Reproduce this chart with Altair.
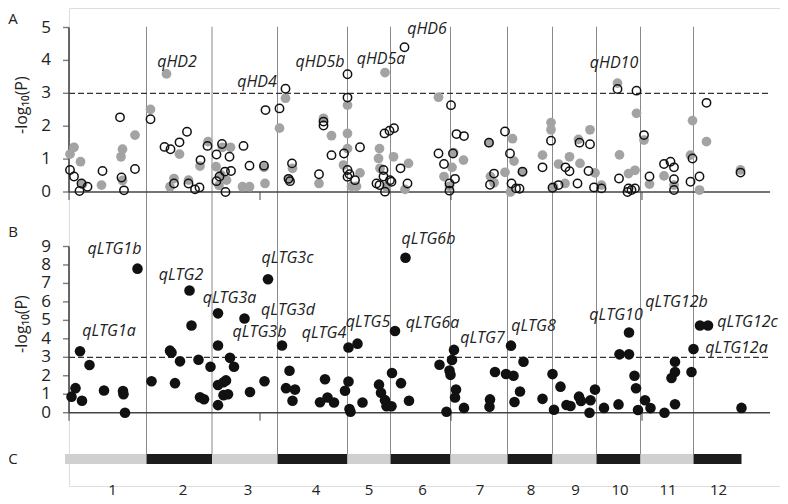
import altair as alt
import pandas as pd

# ---------------- chromosome layout (genome position units) ----------------
chrom_names = ["1", "2", "3", "4", "5", "6", "7", "8", "9", "10", "11", "12"]
chrom_start = [-8, 155, 286, 417, 557, 643, 763, 877, 967, 1055, 1143, 1249]
chrom_end = [155, 286, 417, 557, 643, 763, 877, 967, 1055, 1143, 1249, 1345]
chrom_label_pos = [87, 228, 358, 494, 600, 707, 822, 924, 1013, 1102, 1198, 1299]
x_ticks = [0, 382, 764, 1146]
x_axis_end = 1402
threshold = 3

# ---------------- panel A: heading date (gray = one set, open = other) ----------------
a_gray_pos = [2, 10, 23, 27, 65, 104, 107, 132, 107,
              163, 195, 221, 202, 210, 239, 262, 278,
              294, 307, 323, 304, 300, 315, 347, 361, 390, 392,
              421, 433, 447, 440, 509, 525, 500,
              557, 557, 557, 549, 565, 575, 582,
              632, 621, 619, 622, 635, 649,
              679, 672, 739, 750, 769, 766, 761, 789,
              840, 887, 890, 872, 850, 843, 883, 907,
              947, 964, 964, 979, 969,
              1001, 992, 1019, 1042, 1022, 1052, 1065,
              1097, 1135, 1101, 1119, 1132, 1150, 1161,
              1190, 1210, 1247, 1243, 1261,
              1275, 1343]
a_gray_val = [1.15, 1.36, 0.92, 0.24, 0.21, 1.07, 1.30, 1.73, 0.35,
              2.51, 3.59, 1.15, 0.16, 0.41, 0.36, 0.79, 1.53,
              0.77, 1.36, 1.36, 0.52, 0.20, 0.36, 0.16, 0.16, 0.75, 0.26,
              1.94, 2.85, 0.72, 0.38, 2.24, 1.71, 0.26,
              2.64, 1.78, 1.32, 0.82, 0.17, 0.17, 0.58,
              3.63, 1.32, 1.02, 0.72, 0.16, 1.07,
              0.87, 0.08, 2.88, 0.47, 1.20, 0.75, 0.17, 0.97,
              1.50, 1.62, 0.94, 0.60, 0.28, 0.47, 0.00, 0.60,
              1.12, 2.11, 1.89, 0.85, 0.16,
              1.07, 0.26, 1.60, 1.89, 0.87, 0.58, 0.21,
              3.31, 2.39, 1.13, 0.56, 0.66, 1.58, 0.24,
              0.49, 0.21, 2.17, 1.12, 0.06,
              1.53, 0.67]

a_open_pos = [2, 10, 25, 37, 21, 67, 102, 105, 110, 132,
              163, 191, 203, 221, 236, 210, 239, 252, 261, 263, 277,
              295, 306, 321, 295, 301, 312, 324, 313, 349, 361, 390, 393,
              421, 433, 446, 439, 442, 509, 509, 525, 500, 557, 557, 550, 582, 557, 561, 557, 572,
              631, 641, 650, 629, 629, 615, 621, 632, 642, 645, 663, 677, 671,
              764, 739, 750, 768, 772, 761, 761, 775, 790,
              840, 872, 882, 850, 842, 885, 894, 901, 907,
              947, 964, 967, 979,
              993, 1001, 1021, 1042, 1039, 1017, 1050, 1065,
              1097, 1135, 1100, 1119, 1125, 1132, 1117, 1150, 1161,
              1190, 1203, 1210, 1210, 1210, 1243, 1247, 1261,
              1275, 1343]
a_open_val = [0.67, 0.47, 0.26, 0.16, 0.03, 0.64, 2.27, 0.44, 0.05, 0.70,
              2.21, 1.37, 1.30, 1.51, 1.83, 0.26, 0.26, 0.08, 0.14, 0.97, 1.40,
              1.14, 1.46, 1.07, 0.33, 0.47, 0.62, 0.64, 0.00, 1.40, 0.80, 0.80, 2.49,
              2.54, 3.14, 0.87, 0.40, 0.33, 2.14, 2.02, 1.12, 0.54, 2.87, 3.58, 1.17, 1.36, 0.67, 0.54, 0.46, 0.36,
              1.78, 1.86, 1.94, 0.67, 0.47, 0.26, 0.21, 0.01, 0.36, 0.31, 0.72, 0.26, 4.40,
              2.64, 1.17, 0.85, 1.17, 0.40, 0.26, 0.04, 1.76, 1.70,
              1.50, 1.84, 1.17, 0.56, 0.22, 0.26, 0.11, 0.10, 0.62,
              0.75, 1.56, 0.13, 0.21,
              0.75, 0.63, 1.50, 1.45, 0.64, 0.26, 0.14, 0.11,
              3.13, 3.08, 0.41, 0.11, 0.06, 0.11, 0.00, 1.73, 0.47,
              0.85, 0.92, 0.75, 0.39, 0.06, 0.31, 1.02, 0.47,
              2.71, 0.59]

a_qtl_names = ["qHD2", "qHD4", "qHD5b", "qHD5a", "qHD6", "qHD10"]
a_qtl_pos = [216, 376, 502, 624, 716, 1090]
a_qtl_val = [3.81, 3.18, 3.79, 3.89, 4.80, 3.76]
a_ticks = [0, 1, 2, 3, 4, 5]

# ---------------- panel B: low-temperature germination ----------------
b_pos = [5, 13, 26, 22, 41, 70, 108, 109, 112, 137,
         165, 202, 205, 212, 222, 241, 245, 259, 262, 270, 283,
         298, 298, 298, 309, 314, 298, 309, 318, 322, 330, 351, 362, 391, 398,
         426, 441, 434, 452, 447, 502, 512, 517, 530, 559, 577, 559, 552, 561, 563,
         587, 620, 624, 632, 635, 645, 646, 652, 664, 680,
         673, 741, 761, 763, 766, 770, 755, 774, 772, 790,
         842, 841, 852, 874, 889, 884, 902, 891, 909,
         947, 967, 970, 983, 995, 1003,
         1020, 1024, 1043, 1052, 1041, 1070,
         1099, 1101, 1120, 1120, 1131, 1134, 1138, 1152, 1163,
         1191, 1212, 1212, 1205, 1212, 1245, 1249,
         1262, 1278, 1345]
b_val = [0.87, 1.33, 0.65, 3.33, 2.58, 1.20, 1.17, 1.00, 0.00, 7.80,
         1.70, 3.36, 3.26, 1.60, 2.78, 6.62, 4.72, 2.87, 0.84, 0.73, 2.49,
         5.38, 3.64, 1.50, 1.65, 1.75, 0.41, 0.95, 1.00, 2.97, 2.49, 5.10, 1.12, 1.70, 7.23,
         3.64, 2.27, 1.33, 1.25, 0.65, 0.57, 1.81, 0.82, 0.55, 3.53, 3.74, 1.69, 1.19, 0.20, 0.05,
         0.55, 1.52, 1.08, 0.68, 0.35, 0.35, 2.15, 4.42, 1.60, 0.65,
         8.39, 2.60, 2.28, 2.05, 2.86, 3.40, 0.05, 1.25, 0.82, 0.26,
         0.72, 0.32, 2.20, 2.10, 2.00, 3.63, 1.15, 0.58, 2.76,
         0.75, 2.09, 0.16, 1.41, 0.42, 0.36,
         0.87, 0.63, 0.67, 1.25, 0.00, 0.26,
         0.45, 3.16, 3.16, 4.34, 2.00, 1.32, 0.15, 0.67, 0.25,
         0.00, 2.76, 2.20, 1.88, 0.46, 2.20, 3.45,
         4.72, 4.72, 0.26]

b_qtl_names = ["qLTG1b", "qLTG1a", "qLTG2", "qLTG3a", "qLTG3c", "qLTG3d", "qLTG3b",
               "qLTG4", "qLTG5", "qLTG6b", "qLTG6a", "qLTG7", "qLTG8", "qLTG10",
               "qLTG12b", "qLTG12c", "qLTG12a"]
b_qtl_pos = [91, 80, 224, 321, 437, 438, 381, 510, 598, 719, 727, 827, 929, 1094, 1215, 1357, 1335]
b_qtl_val = [8.58, 4.15, 7.18, 5.92, 8.09, 5.29, 4.12, 4.03, 4.66, 9.12, 4.60, 3.76, 4.42, 5.02,
             5.74, 4.66, 3.25]
b_ticks = [0, 1, 2, 3, 4, 5, 6, 7, 8, 9]

panel_letters = ["A", "B", "C"]
y_title = "-log\u2081\u2080(P)"

# ---------------- styling ----------------
FONT = "Open Sans"
TXT = "#222222"
AX = "#444444"

x_scale = alt.Scale(domain=[0, 1422], nice=False, zero=False)
yA = alt.Scale(domain=[0, 5], range=[184, 19.5], nice=False, zero=False)
yB = alt.Scale(domain=[0, 9], range=[404.7, 238.5], nice=False, zero=False)
yF = alt.Scale(domain=[0, 1], range=[446, 18.7], nice=False, zero=False)
yC = alt.Scale(type="point", domain=["bar", "label"], range=[451, 482], padding=0)


def X(field):
    return alt.X(f"{field}:Q", scale=x_scale, axis=None)


def Y(field, scale):
    return alt.Y(f"{field}:Q", scale=scale, axis=None)


# ---------------- data frames ----------------
lines_df = pd.DataFrame({"pos": chrom_start[1:], "lo": 0.0, "hi": 1.0})
ticks_df = pd.DataFrame({"pos": x_ticks, "zero": 0.0})

a_gray_df = pd.DataFrame({"pos": a_gray_pos, "val": a_gray_val})
a_open_df = pd.DataFrame({"pos": a_open_pos, "val": a_open_val})
a_qtl_df = pd.DataFrame({"pos": a_qtl_pos, "val": a_qtl_val, "name": a_qtl_names})
b_df = pd.DataFrame({"pos": b_pos, "val": b_val})
b_qtl_df = pd.DataFrame({"pos": b_qtl_pos, "val": b_qtl_val, "name": b_qtl_names})

chrom_df = pd.DataFrame({
    "start": chrom_start, "end": chrom_end, "name": chrom_names,
    "labelpos": chrom_label_pos,
    "shade": ["light" if i % 2 == 0 else "dark" for i in range(len(chrom_names))],
    "row": "bar", "labelrow": "label",
})

# ---------------- frame: chromosome boundary lines ----------------
frame = alt.Chart(lines_df).mark_rule(color="#8a8a8a", strokeWidth=1).encode(
    x=X("pos"), y=Y("lo", yF), y2="hi:Q",
)


def panel(points_layers, qtl_df, yscale, tick_values, title_val, letter, letter_val):
    top = tick_values[-1]
    axis_df = pd.DataFrame({"x0": [0], "x1": [x_axis_end], "x1d": [x_axis_end - 4],
                            "zero": [0.0], "top": [float(top)], "thr": [float(threshold)]})
    yt_df = pd.DataFrame({"x0": 0, "v": tick_values, "t": [str(v) for v in tick_values]})
    dashed = alt.Chart(axis_df).mark_rule(color="#333333", strokeWidth=1.3, strokeDash=[6, 3]).encode(
        x=X("x0"), x2="x1d:Q", y=Y("thr", yscale))
    xline = alt.Chart(axis_df).mark_rule(color=AX, strokeWidth=1.6).encode(
        x=X("x0"), x2="x1:Q", y=Y("zero", yscale))
    yline = alt.Chart(axis_df).mark_rule(color=AX, strokeWidth=1.6).encode(
        x=X("x0"), y=Y("zero", yscale), y2="top:Q")
    xticks = alt.Chart(ticks_df).mark_tick(orient="vertical", size=8, thickness=1.4, color=AX,
                                           yOffset=4).encode(x=X("pos"), y=Y("zero", yscale))
    yticks = alt.Chart(yt_df).mark_tick(orient="horizontal", size=6, thickness=1.4, color=AX,
                                        xOffset=-3).encode(x=X("x0"), y=Y("v", yscale))
    ylabels = alt.Chart(yt_df).mark_text(font=FONT, fontSize=17, color=TXT, align="right",
                                         baseline="middle", dx=-18).encode(
        x=X("x0"), y=Y("v", yscale), text="t:N")
    title_df = pd.DataFrame({"t": [y_title], "v": [title_val]})
    ytitle = alt.Chart(title_df).mark_text(font=FONT, fontSize=16, color=TXT, align="center",
                                           baseline="middle", angle=270).encode(
        x=alt.value(-47), y=Y("v", yscale), text="t:N")
    labels = alt.Chart(qtl_df).mark_text(font=FONT, fontStyle="italic", fontSize=16, color=TXT,
                                         align="center", baseline="alphabetic").encode(
        x=X("pos"), y=Y("val", yscale), text="name:N")
    letter_df = pd.DataFrame({"t": [letter], "v": [letter_val]})
    let = alt.Chart(letter_df).mark_text(font=FONT, fontSize=15, color=TXT, align="center",
                                         baseline="alphabetic").encode(
        x=alt.value(-56), y=Y("v", yscale), text="t:N")
    pts = [p.encode(y=Y("val", yscale)) for p in points_layers]
    return alt.layer(dashed, xline, yline, xticks, yticks, ylabels, ytitle, *pts, labels, let)


a_gray = alt.Chart(a_gray_df).mark_circle(size=95, color="#a3a3a3", opacity=1).encode(x=X("pos"))
a_open = alt.Chart(a_open_df).mark_point(shape="circle", filled=False, size=70, color="#111111",
                                         strokeWidth=1.5, opacity=1).encode(x=X("pos"))
panelA = panel([a_gray, a_open], a_qtl_df, yA, a_ticks, 2.64, panel_letters[0], 5.1)

b_pts = alt.Chart(b_df).mark_circle(size=112, color="#111111", opacity=1).encode(x=X("pos"))
panelB = panel([b_pts], b_qtl_df, yB, b_ticks, 4.8, panel_letters[1], 9.53)

# ---------------- panel C: chromosome bar ----------------
bar = alt.Chart(chrom_df).mark_rule(strokeWidth=10, strokeCap="butt").encode(
    x=X("start"), x2="end:Q",
    y=alt.Y("row:N", scale=yC, axis=None),
    color=alt.Color("shade:N", scale=alt.Scale(domain=["light", "dark"], range=["#d0d0d0", "#1c1c1c"]),
                    legend=None),
)
nums = alt.Chart(chrom_df).mark_text(font=FONT, fontSize=15, color=TXT, align="center",
                                     baseline="middle").encode(
    x=X("labelpos"), y=alt.Y("labelrow:N", scale=yC, axis=None), text="name:N")
c_letter = alt.Chart(pd.DataFrame({"t": [panel_letters[2]], "row": ["bar"]})).mark_text(
    font=FONT, fontSize=15, color=TXT, align="center", baseline="middle").encode(
    x=alt.value(-56), y=alt.Y("row:N", scale=yC, axis=None), text="t:N")
panelC = alt.layer(bar, nums, c_letter)

chart = alt.layer(frame, panelA, panelB, panelC).resolve_scale(y="independent").properties(
    width=711, height=478,
    autosize=alt.AutoSizeParams(type="none"),
    padding={"left": 61, "top": 0, "right": 0, "bottom": 18},
).configure_view(stroke=None).configure(background="white")

chart.save("out.html", embed_options={"renderer": "svg", "actions": False})
